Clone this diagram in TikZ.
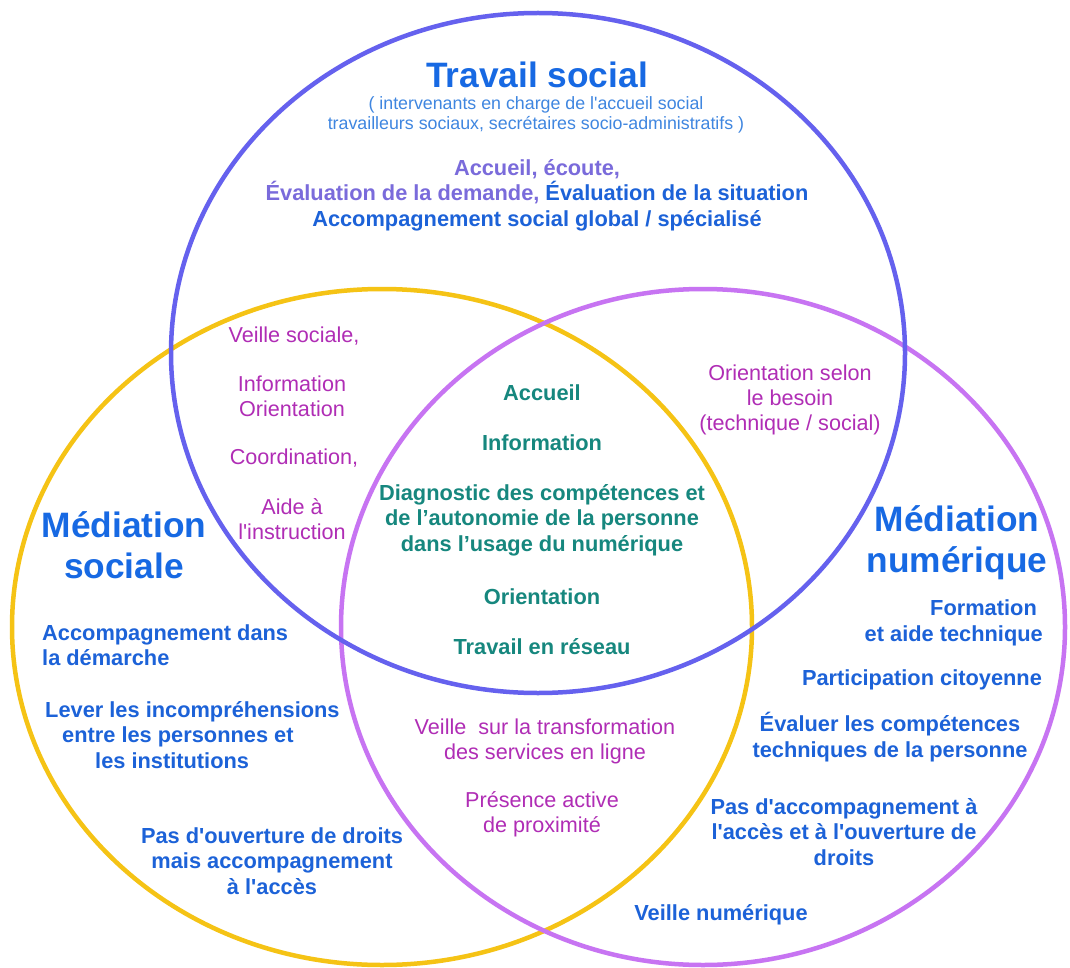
\documentclass[tikz,border=0pt]{standalone}
\usepackage{fontspec}
\setmainfont{Liberation Sans}
\newcommand{\ap}{\textquotesingle}
\definecolor{cTop}{HTML}{6561EE}
\definecolor{cYel}{HTML}{F5C315}
\definecolor{cPur}{HTML}{C774F2}
\definecolor{blueT}{HTML}{1769E3}
\definecolor{blueB}{HTML}{1C62D8}
\definecolor{lav}{HTML}{7A6BDB}
\definecolor{mag}{HTML}{B02DB5}
\definecolor{teal}{HTML}{16877E}
\definecolor{subc}{HTML}{3F86E0}
\begin{document}
\begin{tikzpicture}[x=1pt,y=-1pt,
  ring/.style={line width=4.5pt},
  bigtitle/.style={font=\fontsize{35.3}{41}\selectfont\bfseries, text=blueT, align=center, inner sep=0pt},
  subt/.style={font=\fontsize{17.8}{20}\selectfont, text=subc, align=center, inner sep=0pt},
  bodyb/.style={font=\fontsize{21.8}{25.5}\selectfont\bfseries, align=center, inner sep=0pt},
  bodyr/.style={font=\fontsize{21.6}{25}\selectfont, text=mag, align=center, inner sep=0pt},
  bluetxt/.style={bodyb, text=blueB},
  tealtxt/.style={bodyb, text=teal}]
\useasboundingbox (0,0) rectangle (1070,968);
\fill[white] (0,0) rectangle (1070,968);
% circles
\draw[ring, cYel] (382,627) ellipse [x radius=370pt, y radius=338pt];
\draw[ring, cPur] (703,627) ellipse [x radius=362pt, y radius=338pt];
\draw[ring, cTop] (538,353) ellipse [x radius=367pt, y radius=340pt];
% Travail social
\node[bigtitle] (ts) at (537,75) {Travail social};
\node[subt] (tssub) at (536,115) {( intervenants en charge de l\ap accueil social\\travailleurs sociaux, secrétaires socio-administratifs )};
\node[bodyb] (tsbody) at (537,195) {\fontsize{21.8}{26}\selectfont\textcolor{lav}{Accueil, écoute,}\\\textcolor{lav}{Évaluation de la demande,} \textcolor{blueB}{Évaluation de la situation}\\\textcolor{blueB}{Accompagnement social global / spécialisé}};
% left lens
\node[bodyr] (ll1) at (294,336) {Veille sociale,};
\node[bodyr] (ll2) at (292,396) {Information\\Orientation};
\node[bodyr] (ll3) at (294,458) {Coordination,};
\node[bodyr] (ll4) at (292,519) {Aide à\\l\ap instruction};
% right lens
\node[bodyr] (rl) at (790,400) {Orientation selon\\le besoin\\(technique / social)};
% center
\node[tealtxt] (c1) at (542,393) {Accueil};
\node[tealtxt] (c2) at (542,443) {Information};
\node[tealtxt] (c3) at (542,520) {Diagnostic des compétences et\\de l’autonomie de la personne\\dans l’usage du numérique};
\node[tealtxt] (c4) at (542,597) {Orientation};
\node[tealtxt] (c5) at (542,647) {Travail en réseau};
% bottom lens
\node[bodyr] (bl1) at (545,741) {Veille\ \ sur la transformation\\des services en ligne};
\node[bodyr] (bl2) at (542,814) {Présence active\\de proximité};
% Mediation sociale
\node[bigtitle] (ms) at (124,545) {Médiation\\sociale};
\node[bluetxt, align=left, anchor=west] (ms1) at (42,645) {Accompagnement dans\\la démarche};
\node[bluetxt, align=left, anchor=west] (ms2) at (45,735) {Lever les incompréhensions\\\hspace*{17pt}entre les personnes et\\\hspace*{50pt}les institutions};
\node[bluetxt] (ms3) at (272,861) {Pas d\ap ouverture de droits\\mais accompagnement\\à l\ap accès};
% Mediation numerique
\node[bigtitle] (mn) at (957,543) {Médiation\\numérique};
\node[bluetxt, align=right, anchor=east] (mn1) at (1043,623) {Formation\hspace*{6pt}\\et aide technique};
\node[bluetxt] (mn2) at (922,680) {Participation citoyenne};
\node[bluetxt] (mn3) at (890,737) {Évaluer les compétences\\techniques de la personne};
\node[bluetxt] (mn4) at (844,832) {Pas d\ap accompagnement à\\l\ap accès et à l\ap ouverture de\\droits};
\node[bluetxt] (mn5) at (721,915) {Veille numérique};
\end{tikzpicture}
\end{document}
